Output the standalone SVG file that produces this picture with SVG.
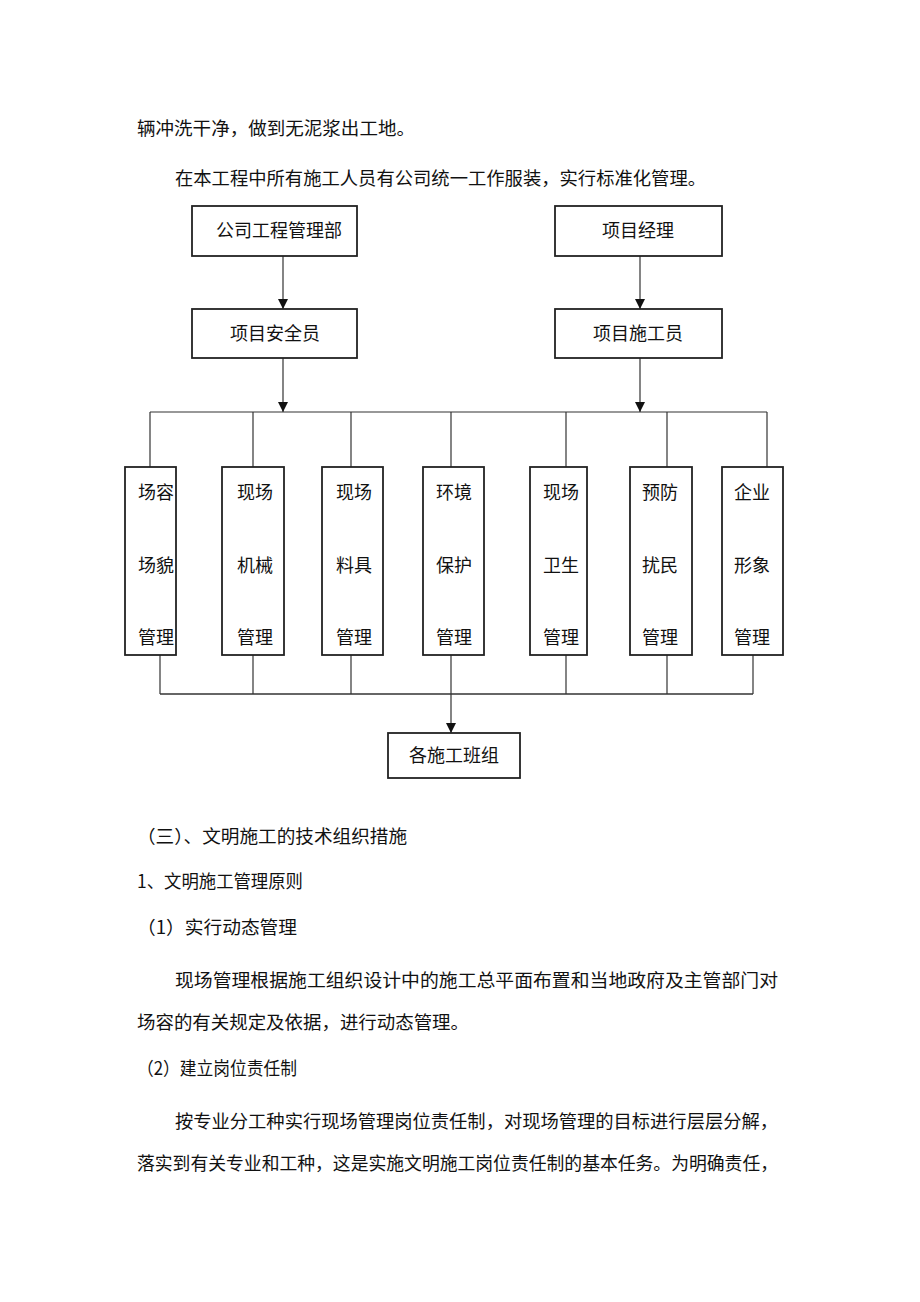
<svg xmlns="http://www.w3.org/2000/svg" width="920" height="1302" viewBox="0 0 920 1302">
<style>
text{font-family:"Noto Sans CJK SC","Noto Sans CJK JP",sans-serif;font-size:18px;fill:#111;}
.box{fill:#fff;stroke:#222;stroke-width:1.8;}
.ln{stroke:#333;stroke-width:1.2;fill:none;}
.c{text-anchor:middle;}
</style>
<defs>
<marker id="ah" viewBox="0 0 10 10" refX="10" refY="5" markerWidth="10" markerHeight="10" markerUnits="userSpaceOnUse" orient="auto">
<path d="M0,0 L10,5 L0,10 z" fill="#111"/>
</marker>
</defs>
<rect width="920" height="1302" fill="#fff"/>
<g id="para-top">
<text x="137" y="135" textLength="278" lengthAdjust="spacingAndGlyphs">辆冲洗干净，做到无泥浆出工地。</text>
<text x="175" y="185" textLength="531" lengthAdjust="spacingAndGlyphs">在本工程中所有施工人员有公司统一工作服装，实行标准化管理。</text>
</g>
<g id="connectors">
<line class="ln" x1="283" y1="256" x2="283" y2="309" marker-end="url(#ah)"/>
<line class="ln" x1="640" y1="256" x2="640" y2="309" marker-end="url(#ah)"/>
<line class="ln" x1="283" y1="358" x2="283" y2="412" marker-end="url(#ah)"/>
<line class="ln" x1="640" y1="358" x2="640" y2="412" marker-end="url(#ah)"/>
<line class="ln" x1="150" y1="412" x2="767" y2="412"/>
<line class="ln" x1="150" y1="412" x2="150" y2="467"/>
<line class="ln" x1="253" y1="412" x2="253" y2="467"/>
<line class="ln" x1="351" y1="412" x2="351" y2="467"/>
<line class="ln" x1="451" y1="412" x2="451" y2="467"/>
<line class="ln" x1="566" y1="412" x2="566" y2="467"/>
<line class="ln" x1="667" y1="412" x2="667" y2="467"/>
<line class="ln" x1="767" y1="412" x2="767" y2="467"/>
<line class="ln" x1="160" y1="655" x2="160" y2="694"/>
<line class="ln" x1="253" y1="655" x2="253" y2="694"/>
<line class="ln" x1="351" y1="655" x2="351" y2="694"/>
<line class="ln" x1="451" y1="655" x2="451" y2="694"/>
<line class="ln" x1="566" y1="655" x2="566" y2="694"/>
<line class="ln" x1="667" y1="655" x2="667" y2="694"/>
<line class="ln" x1="753" y1="655" x2="753" y2="694"/>
<line class="ln" x1="160" y1="694" x2="753" y2="694" style="stroke-width:1.6"/>
<line class="ln" x1="451" y1="694" x2="451" y2="733" marker-end="url(#ah)"/>
</g>
<g id="n-gongsi"><rect class="box" x="192" y="206" width="165" height="50"/><text class="c" x="279" y="237">公司工程管理部</text></g>
<g id="n-jingli"><rect class="box" x="555" y="206" width="167" height="50"/><text class="c" x="638" y="237">项目经理</text></g>
<g id="n-anquan"><rect class="box" x="192" y="309" width="165" height="49"/><text class="c" x="275" y="340">项目安全员</text></g>
<g id="n-shigong"><rect class="box" x="555" y="309" width="167" height="49"/><text class="c" x="638" y="340">项目施工员</text></g>
<g id="n-b1"><rect class="box" x="125" y="467" width="51" height="188"/><text class="c" x="156" y="499">场容</text><text class="c" x="156" y="572">场貌</text><text class="c" x="156" y="644">管理</text></g>
<g id="n-b2"><rect class="box" x="222" y="467" width="62" height="188"/><text class="c" x="255" y="499">现场</text><text class="c" x="255" y="572">机械</text><text class="c" x="255" y="644">管理</text></g>
<g id="n-b3"><rect class="box" x="322" y="467" width="61" height="188"/><text class="c" x="354" y="499">现场</text><text class="c" x="354" y="572">料具</text><text class="c" x="354" y="644">管理</text></g>
<g id="n-b4"><rect class="box" x="423" y="467" width="61" height="188"/><text class="c" x="454" y="499">环境</text><text class="c" x="454" y="572">保护</text><text class="c" x="454" y="644">管理</text></g>
<g id="n-b5"><rect class="box" x="530" y="467" width="57" height="188"/><text class="c" x="561" y="499">现场</text><text class="c" x="561" y="572">卫生</text><text class="c" x="561" y="644">管理</text></g>
<g id="n-b6"><rect class="box" x="630" y="467" width="62" height="188"/><text class="c" x="660" y="499">预防</text><text class="c" x="660" y="572">扰民</text><text class="c" x="660" y="644">管理</text></g>
<g id="n-b7"><rect class="box" x="722" y="467" width="61" height="188"/><text class="c" x="752" y="499">企业</text><text class="c" x="752" y="572">形象</text><text class="c" x="752" y="644">管理</text></g>
<g id="n-banzu"><rect class="box" x="388" y="733" width="132" height="45"/><text class="c" x="454" y="762">各施工班组</text></g>
<g id="para-bottom">
<text x="137" y="843" textLength="270" lengthAdjust="spacingAndGlyphs">（三）、文明施工的技术组织措施</text>
<text x="137" y="888" textLength="166" lengthAdjust="spacingAndGlyphs">1、文明施工管理原则</text>
<text x="137" y="934" textLength="160" lengthAdjust="spacingAndGlyphs">（1）实行动态管理</text>
<text x="175" y="987" textLength="603" lengthAdjust="spacingAndGlyphs">现场管理根据施工组织设计中的施工总平面布置和当地政府及主管部门对</text>
<text x="137" y="1029" textLength="332" lengthAdjust="spacingAndGlyphs">场容的有关规定及依据，进行动态管理。</text>
<text x="137" y="1075" textLength="160" lengthAdjust="spacingAndGlyphs">（2）建立岗位责任制</text>
<text x="175" y="1128" textLength="603" lengthAdjust="spacingAndGlyphs">按专业分工种实行现场管理岗位责任制，对现场管理的目标进行层层分解，</text>
<text x="137" y="1170" textLength="641" lengthAdjust="spacingAndGlyphs">落实到有关专业和工种，这是实施文明施工岗位责任制的基本任务。为明确责任，</text>
</g>
</svg>
